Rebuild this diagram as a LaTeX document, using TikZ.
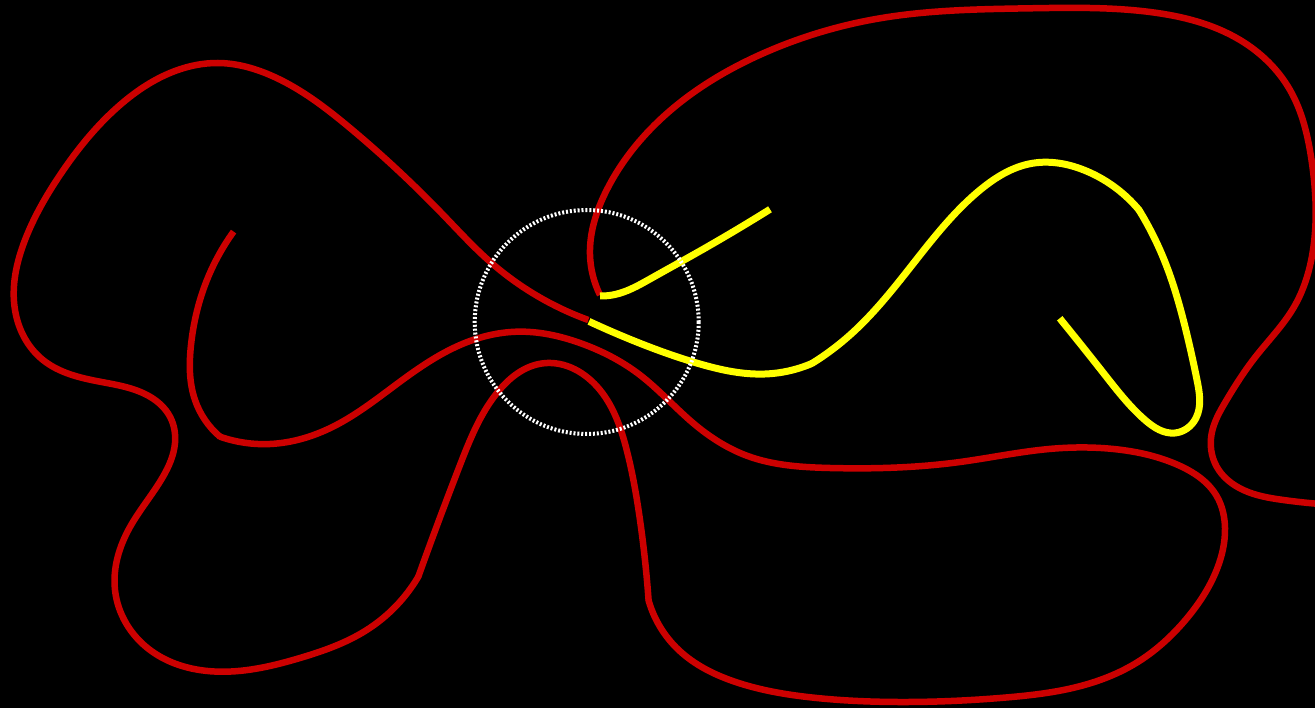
\documentclass[tikz,border=0pt]{standalone}
\usetikzlibrary{hobby}
\definecolor{cred}{RGB}{204,0,0}
\definecolor{cyel}{RGB}{255,255,0}
\begin{document}
\begin{tikzpicture}[x=1pt,y=-1pt,
  redline/.style={draw=cred,line width=6.5pt,use Hobby shortcut},
  yelline/.style={draw=cyel,line width=7pt,use Hobby shortcut},
  reddot/.style={fill=cred},
  yeldot/.style={fill=cyel},
  dotcircle/.style={draw=white,line width=4pt,dash pattern=on 2pt off 1.9pt}]
\fill[black] (0,0) rectangle (1315,708);
\useasboundingbox (0,0) rectangle (1315,708);
% long red curve (four pieces joined at slight corners)
\path[redline] (233.6,231.6) .. (205,285) .. (191,345) .. (195,400) .. (220,436.7);
\path[redline] (220,436.7) .. (270,444) .. (333,426.7) .. (400,381.7) .. (460,345) .. (516.7,331.7) .. (580,343) .. (640,375) .. (693,423) .. (747.6,456) .. (830,468) .. (960,462) .. (1049,449) .. (1113.5,449) .. (1178,465) .. (1217,496.6) .. (1225,528) .. (1217,569) .. (1186.7,618.5) .. (1135,663.7) .. (1070.5,688.5) .. (1006,697.5) .. (898,702) .. (812,697.5) .. (734.7,681.7) .. (678.7,650) .. (648.6,600.5);
\path[redline] (648.6,600.5) .. (640,520) .. (626.7,450) .. (600,390) .. (543.3,363.3) .. (496.7,393.3) .. (460,465) .. (418.3,576.7);
\path[redline] (418.3,576.7) .. (366.7,630) .. (300,658) .. (220,671.7) .. (150,650) .. (115,590) .. (130,527) .. (163,476.7) .. (175,443) .. (170,416.7) .. (150,396.7) .. (100,381.7) .. (43,360) .. (15,310) .. (25,240) .. (60,175) .. (120,105) .. (175,71) .. (218,63) .. (270,75) .. (350,128) .. (443.3,215) .. (490,261.7) .. (588.3,320);
\fill[reddot] (220,436.7) circle[radius=3.25pt] (648.6,600.5) circle[radius=3.25pt] (418.3,576.7) circle[radius=3.25pt];
% second red curve
\path[redline] (600,295) .. (590,255) .. (606.7,190) .. (663.3,116.7) .. (763.3,53.3) .. (880,18.3) .. (1030,8.3) .. (1150,12) .. (1240,40) .. (1290,90) .. (1311.5,160) .. (1313,250) .. (1294,307) .. (1255.6,356.7) .. (1225.5,401.8) .. (1211.7,433.3) .. (1216.7,466.7) .. (1243.3,490) .. (1283.3,500) .. (1320,504);
% yellow curves
\path[yelline] (589,321.4) .. (640,343.3) .. (700,364) .. (765,374) .. (812,363.4);
\path[yelline] (812,363.4) .. (850,335) .. (920,255) .. (980,190) .. (1031.7,163.4) .. (1087.7,171.6) .. (1139,210);
\path[yelline] (1139,210) .. (1165,262) .. (1184.6,325) .. (1197,380) .. (1196,418) .. (1175,433) .. (1145,420) .. (1105,375) .. (1059.7,318.3);
\fill[yeldot] (812,363.4) circle[radius=3.5pt] (1139,210) circle[radius=3.5pt];
\path[yelline] (600,296) .. (615,294.5) .. (650,279) .. (700,251) .. (770,209.3);
% dotted circle
\path[dotcircle] (586.7,322) circle[radius=112];
\end{tikzpicture}
\end{document}
